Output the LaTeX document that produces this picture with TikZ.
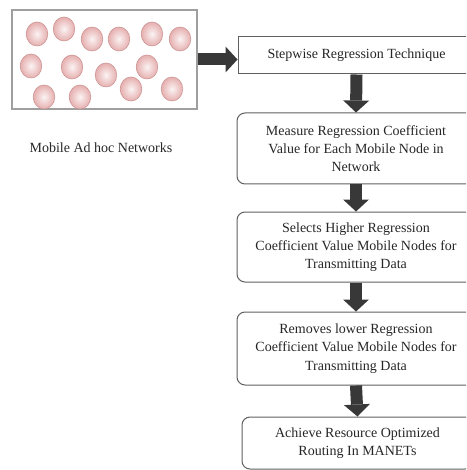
\documentclass[tikz,border=0pt]{standalone}
\usepackage{fontspec}
\setmainfont{Liberation Serif}
\usetikzlibrary{arrows.meta, calc}
\definecolor{boxgray}{HTML}{606060}
\definecolor{bubrim}{HTML}{CC9595}
\definecolor{bubpink}{HTML}{E6AFAF}
\tikzset{%
    txt/.style={font=\fontsize{14}{18.3}\selectfont, align=center, inner sep=0pt, text=black!85},
    box/.style={txt, draw=boxgray, line width=1pt, rectangle},
    rbox/.style={box, rounded corners=8pt},
    barr/.style={line width=12pt, draw=black!78, -{Triangle[width=26pt, length=12pt, line width=0pt]}},
    bub/.style={draw=bubrim, line width=0.6pt, inner color=white!85!bubpink, outer color=bubpink},
}

\begin{document}
\begin{tikzpicture}[x=1pt, y=-1pt]
    \clip (0,0) rectangle (466,470);
    \node [box, draw=gray!75, line width=1.3pt, minimum width=185pt, minimum height=99pt] (net) at (104.5,59.5) {};
    \foreach \cx/\cy in {37/34, 64/29, 92/39, 119/39, 152/34, 180/39,
                         31/66, 72/67, 106/75, 147/67,
                         44/97, 80/97, 131/89, 172/89}
        \path [bub] (\cx,\cy) ellipse [x radius=10.8, y radius=12];
    \node [txt] (lbl) at (101,148) {Mobile Ad hoc Networks};
    \node [box, minimum width=237pt, minimum height=37pt] (step) at (356.5,55.5) {Stepwise Regression Technique};
    \node [rbox, minimum width=238pt, minimum height=71pt] (meas) at (356,148.5) {Measure Regression Coefficient\\Value for Each Mobile Node in\\Network};
    \node [rbox, minimum width=238pt, minimum height=70pt] (sel) at (356,247) {Selects Higher Regression\\Coefficient Value Mobile Nodes for\\Transmitting Data};
    \node [rbox, minimum width=238pt, minimum height=73pt] (rem) at (356,348.5) {Removes lower Regression\\Coefficient Value Mobile Nodes for\\Transmitting Data};
    \node [rbox, minimum width=231pt, minimum height=52pt] (ach) at (357.5,443) {Achieve Resource Optimized\\Routing In MANETs};
    \draw [barr] (net.east) -- (net.east -| step.west);
    \draw [barr] (step.south) -- (meas.north);
    \draw [barr] (meas.south) -- (sel.north);
    \draw [barr] (sel.south) -- (rem.north);
    \draw [barr] (rem.south) -- (ach.north);
\end{tikzpicture}
\end{document}
